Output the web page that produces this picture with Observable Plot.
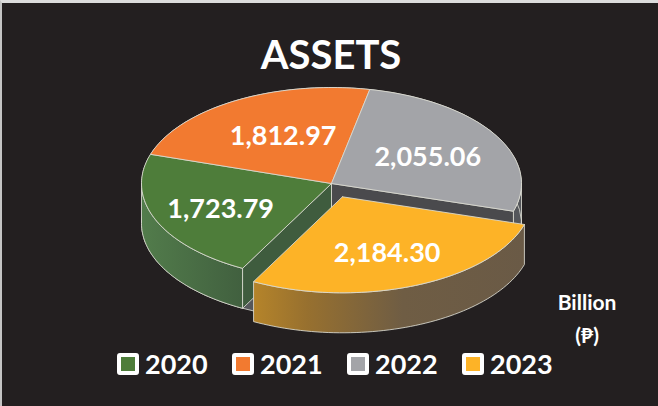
<!DOCTYPE html>
<html>
<head>
<meta charset="utf-8">
<script src="https://cdn.jsdelivr.net/npm/d3@7"></script>
<script src="https://cdn.jsdelivr.net/npm/@observablehq/plot@0.6"></script>
<style>
  html, body { margin: 0; padding: 0; background: #231f20; }
  #frame { position: relative; width: 658px; height: 406px; box-sizing: border-box; background: #231f20; overflow: hidden;
           border-top: 3px solid #dcdcdc; border-left: 2px solid #c4c4c4; font-family: Lato, sans-serif; color: #fff; }
  #corner-a { position: absolute; left: -2px; top: -3px; width: 54px; height: 2px; background: #f7a66e; }
  #corner-b { position: absolute; left: -2px; top: -3px; width: 2px; height: 46px; background: #f7a66e; }
  #title { position: absolute; left: -2px; top: 0; width: 662px; height: 73px; line-height: 102px; text-align: center; font-size: 40px; font-weight: 700; }
  #chart { position: absolute; left: -2px; top: 73px; }
  #chart svg { display: block; background: transparent; }
  #legend { position: absolute; left: 115px; top: 349px; display: flex; }
  .item { width: 115px; display: flex; align-items: center; font-size: 27px; font-weight: 700; line-height: 24px; }
  .sw { width: 14px; height: 14px; border: 4px solid #fff; border-radius: 3px; margin-right: 6px; }
</style>
</head>
<body>
<div id="frame">
  <div id="corner-a"></div><div id="corner-b"></div>
  <div id="title">ASSETS</div>
  <div id="chart"></div>
  <div id="legend"></div>
</div>
<script>
const years = ["2020", "2021", "2022", "2023"];
const values = [1723.79, 1812.97, 2055.06, 2184.30];
const valueLabels = ["1,723.79", "1,812.97", "2,055.06", "2,184.30"];
const colors = ["#4e7d3a", "#f27a30", "#a3a4a8", "#fdb327"];
const exploded = [0, 0, 0, 0.15];
const labelRadius = [0.63, 0.58, 0.59, 0.61];
const labelTurn = [0, 4.3, 0, 0];

const deg = Math.PI / 180;
const depth = 40 / 96;                 // extrusion, in units of the tilted radius
const slices = d3.pie().sort(null).startAngle(207.9 * deg).endAngle((207.9 + 360) * deg)(values);

const pt = (a, c = {x: 0, y: 0}, r = 1, dy = 0) => ({x: c.x + r * Math.sin(a), y: c.y - r * Math.cos(a) + dy});
const arc = (a0, a1, c, dy = 0) => d3.range(0, 61).map(i => pt(a0 + (a1 - a0) * i / 60, c, 1, dy));
const centers = slices.map((s, i) => pt((s.startAngle + s.endAngle) / 2, undefined, exploded[i]));

const face = (i) => {
  const s = slices[i], c = centers[i];
  return [c, ...arc(s.startAngle, s.endAngle, c), c];
};
const wall = (i, a0, a1) => {
  const c = centers[i];
  const upper = arc(a0, a1, c), lower = arc(a1, a0, c, depth);
  return [...upper, ...lower, upper[0]];
};
const radial = (i, a) => {
  const c = centers[i], e = pt(a, c);
  return [c, e, {x: e.x, y: e.y + depth}, {x: c.x, y: c.y + depth}, c];
};

const edge = {stroke: "#dcdcd2", strokeWidth: 1, strokeOpacity: 0.85};
const poly = (points, fill, extra = {}) => Plot.line(points, {x: "x", y: "y", fill, curve: "linear", ...edge, ...extra});

const gradient = (id, stops) => {
  const g = d3.create("svg:linearGradient").attr("id", id);
  stops.forEach(([o, c]) => g.append("stop").attr("offset", o).attr("stop-color", c));
  return g.node();
};
const defs = () => {
  const d = d3.create("svg:defs");
  d.node().append(
    gradient("wallGreen", [[0, "#527c4b"], [1, "#41603f"]]),
    gradient("wallYellow", [[0, "#b5842a"], [0.2, "#97702f"], [0.55, "#6f5d44"], [1, "#6a5a46"]])
  );
  return d.node();
};

const labelData = slices.map((s, i) => ({
  ...pt((s.startAngle + s.endAngle) / 2 + labelTurn[i] * deg, centers[i], labelRadius[i]),
  text: valueLabels[i]
}));

const chart = Plot.plot({
  width: 658,
  height: 280,
  margin: 0,
  style: {background: "transparent", color: "#fff"},
  x: {domain: [-1, 1], range: [141, 521], axis: null},
  y: {domain: [-1, 1], range: [11, 203], axis: null},
  marks: [
    defs,
    // walls behind the faces
    poly(wall(2, 90 * deg, slices[2].endAngle), "#55575b"),
    poly(radial(2, slices[2].endAngle), "#4a4a4d"),
    poly(wall(0, slices[0].startAngle, 270 * deg), "url(#wallGreen)"),
    poly(radial(0, slices[0].startAngle), "#3f5c3e"),
    // top faces of the three seated slices
    poly(face(0), colors[0]),
    poly(face(1), colors[1]),
    poly(face(2), colors[2]),
    // exploded slice
    poly(wall(3, slices[3].startAngle, slices[3].endAngle), "url(#wallYellow)"),
    poly(face(3), colors[3]),
    Plot.text(labelData, {x: "x", y: "y", dy: 3, text: "text", fill: "#fff", fontSize: 27, fontWeight: 700, fontFamily: "Lato, sans-serif"}),
    Plot.text(["Billion", "(₱)"], {
      x: () => 1.345,
      y: (d, i) => [1.22, 1.56][i],
      dy: 3,
      text: d => d, fill: "#fff", fontSize: 21, fontWeight: 700, fontFamily: "Lato, sans-serif"
    })
  ]
});
document.getElementById("chart").append(chart);

const legend = document.getElementById("legend");
years.forEach((y, i) => {
  const item = document.createElement("div");
  item.className = "item";
  const sw = document.createElement("span");
  sw.className = "sw";
  sw.style.background = colors[i];
  item.append(sw, y);
  legend.append(item);
});
</script>
</body>
</html>
